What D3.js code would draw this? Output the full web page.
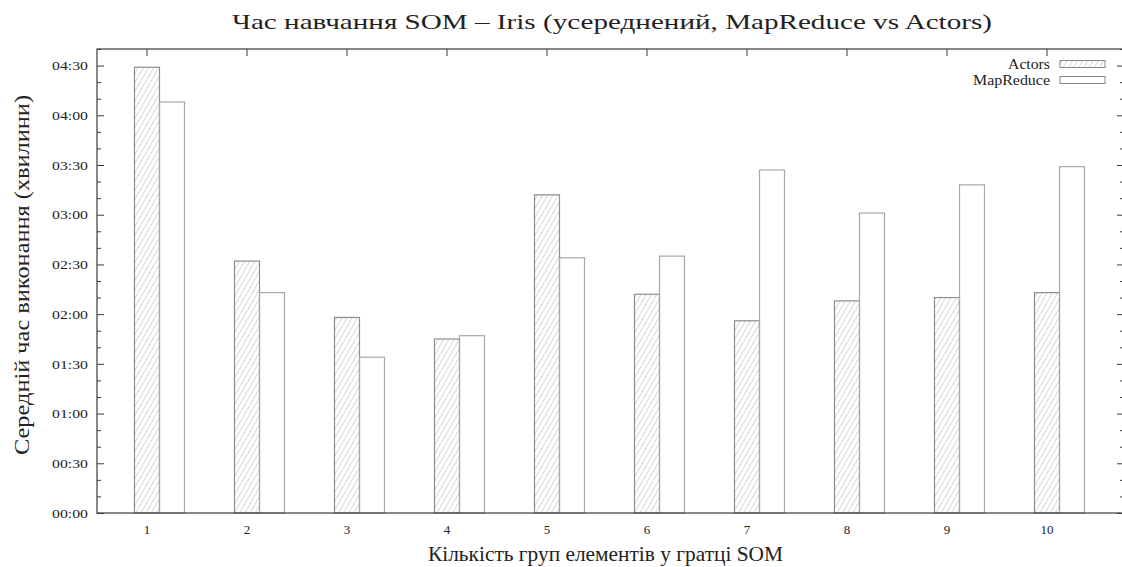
<!DOCTYPE html>
<html>
<head>
<meta charset="utf-8">
<script src="https://cdn.jsdelivr.net/npm/d3@7"></script>
<style>
  body { margin: 0; background: #fff; }
  svg { font-family: "Liberation Serif", "DejaVu Serif", serif; }
</style>
</head>
<body>
<svg width="1122" height="567"></svg>
<script>
const categories = ['1', '2', '3', '4', '5', '6', '7', '8', '9', '10'];
// seconds
const actors = [269, 152, 118, 105, 192, 132, 116, 128, 130, 133];
const mapReduce = [248, 133, 94, 107, 154, 155, 207, 181, 198, 209];
const seriesNames = ['Actors', 'MapReduce'];
const majorTicks = [0, 30, 60, 90, 120, 150, 180, 210, 240, 270];

const serif = '"Liberation Serif", "DejaVu Serif", serif';
const svg = d3.select('svg');
const plotLeft = 97, plotRight = 1124, plotTop = 49, plotBottom = 513;
const barW = 25;

const x = d3.scaleBand().domain(categories).range([plotLeft, plotLeft + 1000]);
const y = d3.scaleLinear().domain([0, 280]).range([plotBottom, plotTop]);

const fmt = s => d3.format('02d')(Math.floor(s / 60)) + ':' + d3.format('02d')(s % 60);

// hatch pattern
const defs = svg.append('defs');
const pat = defs.append('pattern')
  .attr('id', 'hatch')
  .attr('patternUnits', 'userSpaceOnUse')
  .attr('width', 4.5).attr('height', 4.5)
  .attr('patternTransform', 'rotate(30)');
pat.append('line')
  .attr('x1', 0).attr('y1', 0).attr('x2', 0).attr('y2', 4.5)
  .attr('stroke', '#b0b0b0').attr('stroke-width', 1);

// bars
const bars = svg.append('g');
bars.selectAll('rect.actors')
  .data(actors)
  .enter().append('rect')
  .attr('x', (d, i) => x(categories[i]) + x.bandwidth() / 2 - barW / 2)
  .attr('y', d => y(d))
  .attr('width', barW)
  .attr('height', d => y(0) - y(d))
  .attr('fill', 'url(#hatch)')
  .attr('stroke', '#8c8c8c').attr('stroke-width', 1.2);

bars.selectAll('rect.mr')
  .data(mapReduce)
  .enter().append('rect')
  .attr('x', (d, i) => x(categories[i]) + x.bandwidth() / 2 + barW / 2)
  .attr('y', d => y(d))
  .attr('width', barW)
  .attr('height', d => y(0) - y(d))
  .attr('fill', 'none')
  .attr('stroke', '#a8a8a8').attr('stroke-width', 1.2);

// frame
svg.append('rect')
  .attr('x', plotLeft).attr('y', plotTop)
  .attr('width', plotRight - plotLeft).attr('height', plotBottom - plotTop)
  .attr('fill', 'none').attr('stroke', '#3a3a3a').attr('stroke-width', 1.2);

// left axis
const yAxis = d3.axisLeft(y).tickValues(majorTicks).tickFormat(fmt).tickSize(-7).tickPadding(9);
const gy = svg.append('g').attr('transform', `translate(${plotLeft},0)`).call(yAxis)
  .attr('font-family', serif);
gy.select('.domain').remove();
gy.selectAll('line').attr('stroke', '#3a3a3a');
gy.selectAll('text').attr('font-size', 13).attr('fill', '#222')
  .attr('textLength', 36).attr('lengthAdjust', 'spacingAndGlyphs');

const minor = d3.range(0, 281, 10).filter(v => v % 30 !== 0);
const gyMinor = svg.append('g').attr('transform', `translate(${plotLeft},0)`)
  .call(d3.axisLeft(y).tickValues(minor).tickFormat('').tickSize(-4));
gyMinor.select('.domain').remove();
gyMinor.selectAll('line').attr('stroke', '#3a3a3a');

// right mirror ticks
const gr = svg.append('g').attr('transform', `translate(${plotRight},0)`)
  .call(d3.axisRight(y).tickValues(majorTicks).tickFormat('').tickSize(-7));
gr.select('.domain').remove();
gr.selectAll('line').attr('stroke', '#3a3a3a');
const grm = svg.append('g').attr('transform', `translate(${plotRight},0)`)
  .call(d3.axisRight(y).tickValues(minor).tickFormat('').tickSize(-4));
grm.select('.domain').remove();
grm.selectAll('line').attr('stroke', '#3a3a3a');

// bottom & top axes
const gx = svg.append('g').attr('transform', `translate(0,${plotBottom})`)
  .call(d3.axisBottom(x).tickSize(0).tickPadding(12))
  .attr('font-family', serif);
gx.select('.domain').remove();
gx.selectAll('text').attr('font-size', 13).attr('fill', '#222');

const gt = svg.append('g').attr('transform', `translate(0,${plotTop})`)
  .call(d3.axisTop(x).tickSize(-7).tickFormat(''));
gt.select('.domain').remove();
gt.selectAll('line').attr('stroke', '#3a3a3a');

// legend
const legendY = [64, 80];
const legendLen = [42, 77];
const legend = svg.append('g');
seriesNames.forEach((name, i) => {
  legend.append('text')
    .attr('x', 1050).attr('y', legendY[i] + 4.5)
    .attr('text-anchor', 'end')
    .attr('font-size', 14)
    .attr('fill', '#222')
    .attr('textLength', legendLen[i]).attr('lengthAdjust', 'spacingAndGlyphs')
    .text(name);
  legend.append('rect')
    .attr('x', 1060).attr('y', legendY[i] - 3.5)
    .attr('width', 45).attr('height', 7)
    .attr('fill', i === 0 ? 'url(#hatch)' : 'none')
    .attr('stroke', '#888').attr('stroke-width', 1);
});

// titles
svg.append('text')
  .attr('x', 232).attr('y', 29)
  .attr('font-size', 22)
  .attr('fill', '#222')
  .attr('textLength', 760).attr('lengthAdjust', 'spacingAndGlyphs')
  .text('Час навчання SOM – Iris (усереднений, MapReduce vs Actors)');

svg.append('text')
  .attr('x', 428).attr('y', 561)
  .attr('font-size', 21)
  .attr('fill', '#222')
  .attr('textLength', 355).attr('lengthAdjust', 'spacingAndGlyphs')
  .text('Кількість груп елементів у гратці SOM');

svg.append('text')
  .attr('transform', 'translate(29,455) rotate(-90)')
  .attr('font-size', 21)
  .attr('fill', '#222')
  .attr('textLength', 360).attr('lengthAdjust', 'spacingAndGlyphs')
  .text('Середній час виконання (хвилини)');
</script>
</body>
</html>
